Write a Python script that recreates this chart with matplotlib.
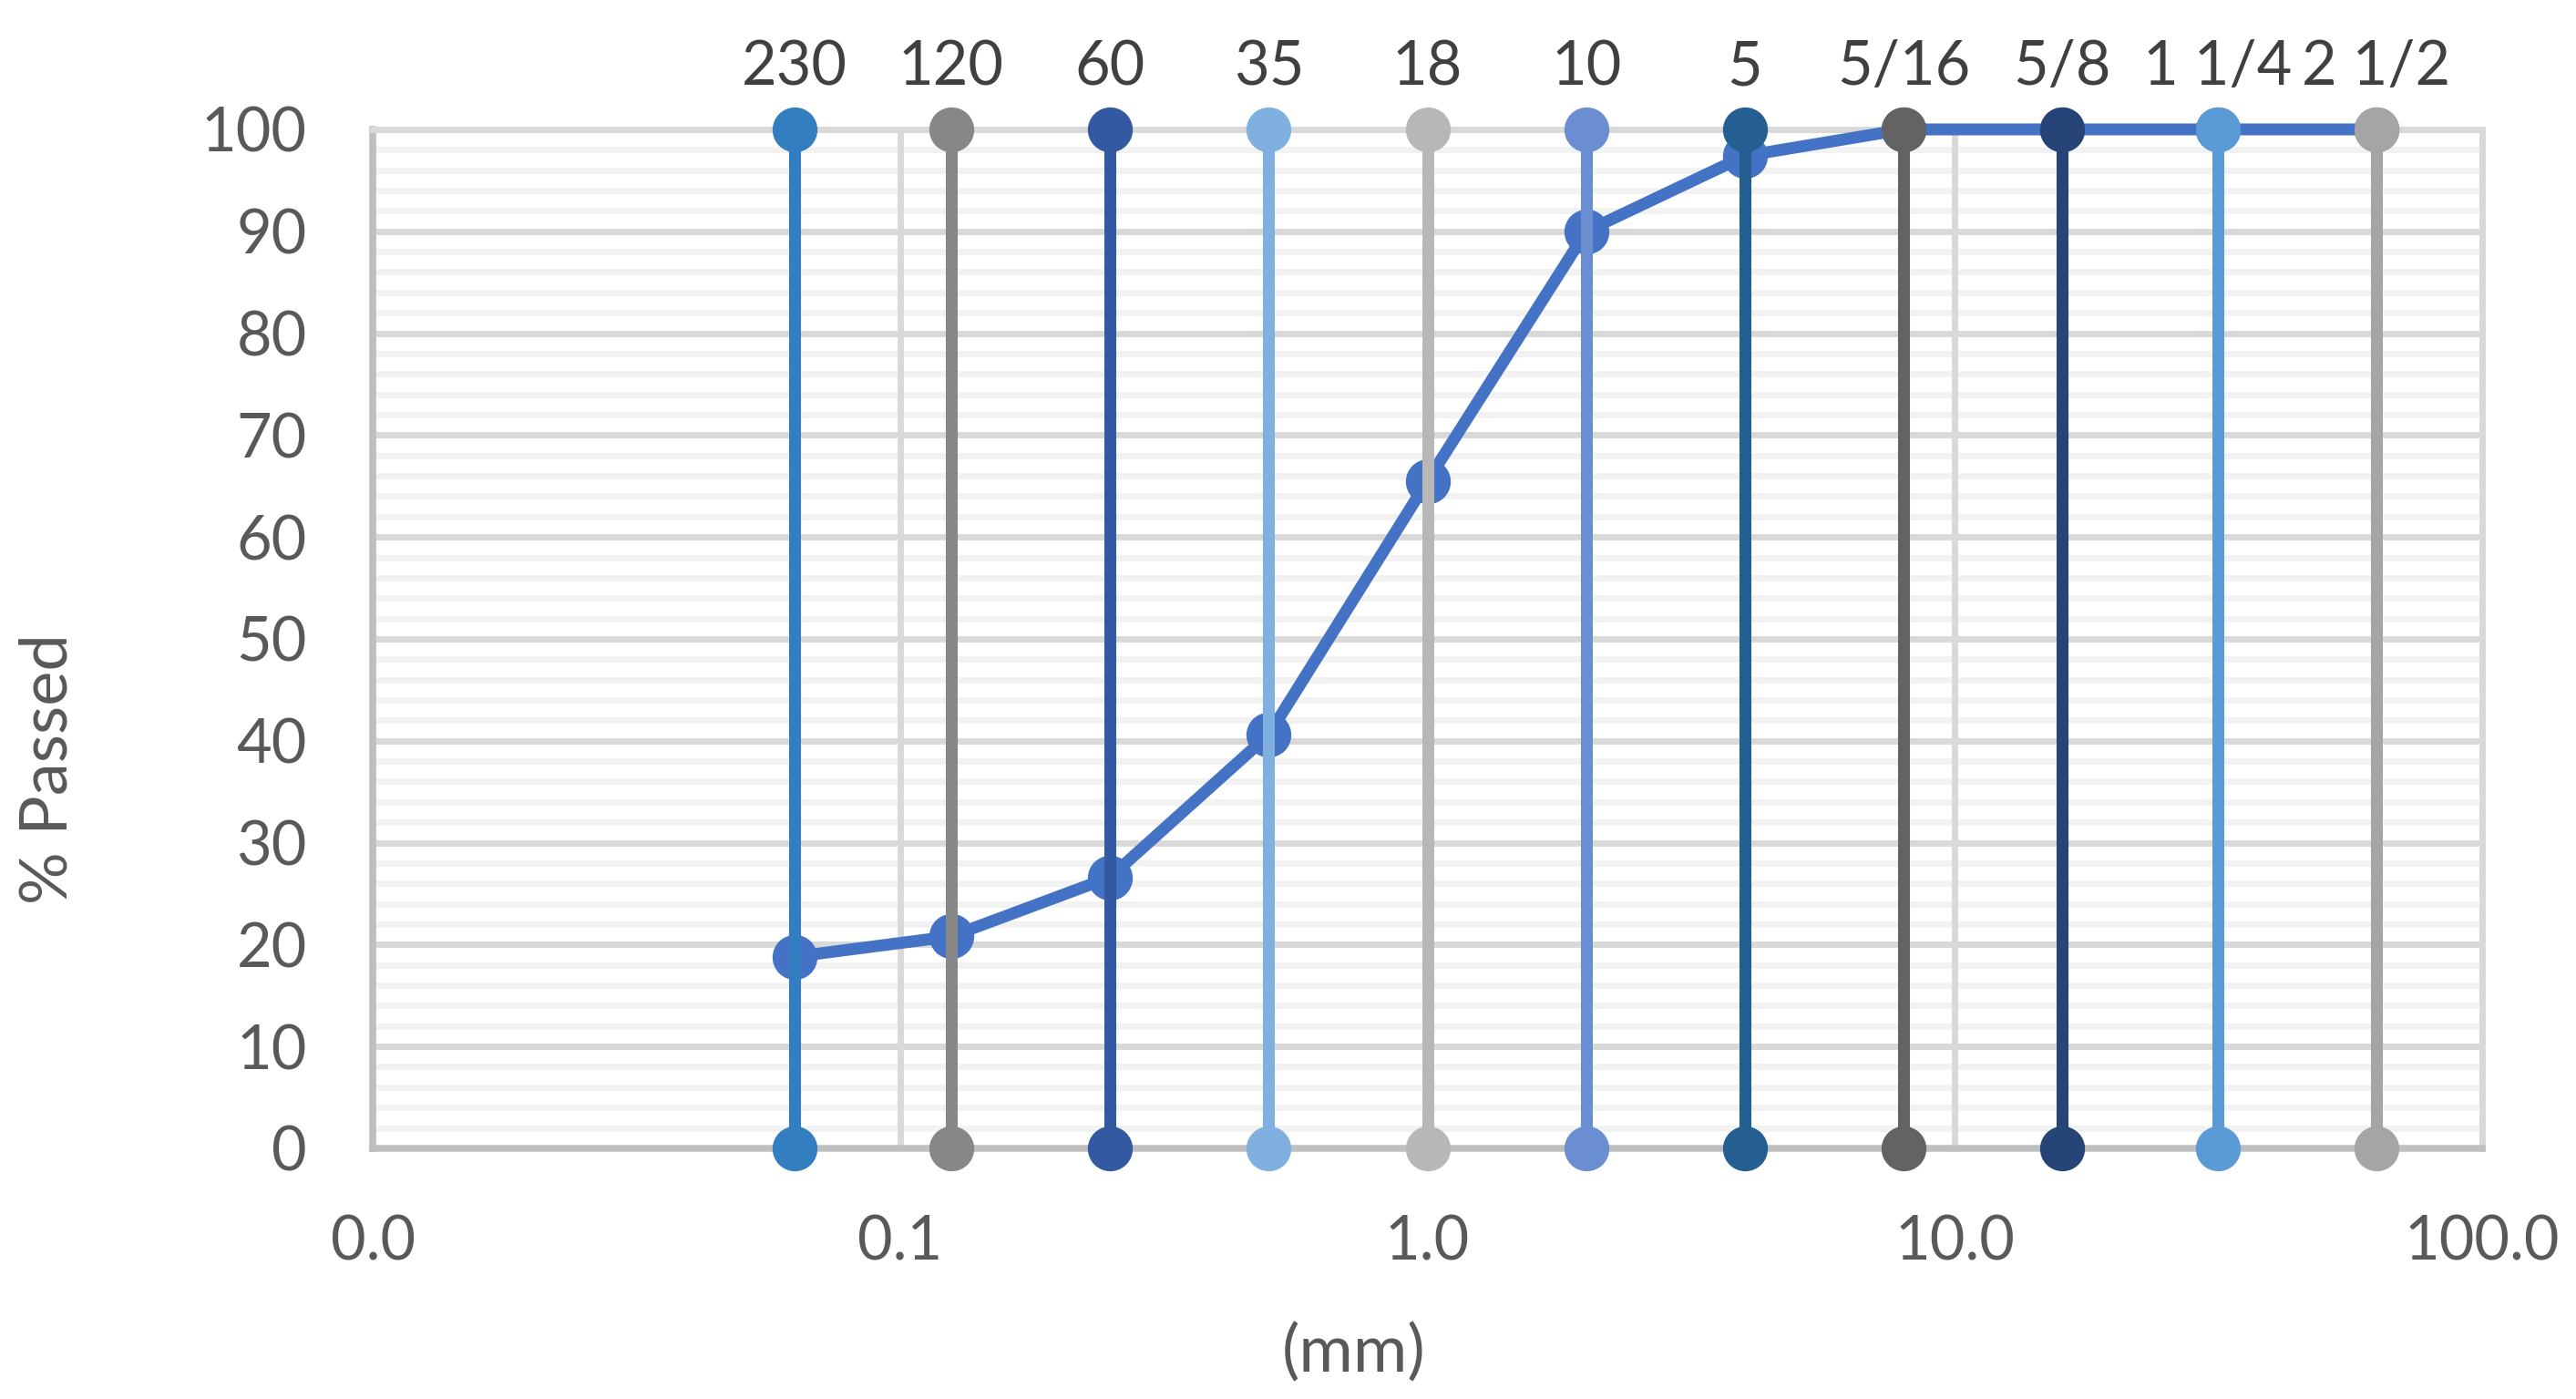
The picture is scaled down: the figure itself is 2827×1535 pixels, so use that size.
import matplotlib
matplotlib.use("Agg")
import matplotlib.pyplot as plt
from matplotlib.ticker import FixedLocator, MultipleLocator, NullLocator

plt.rcParams['font.family'] = ['Lato', 'DejaVu Sans']

# sieve sizes (mm) and their sieve numbers / inch labels
sieve_mm = [0.063, 0.125, 0.25, 0.5, 1.0, 2.0, 4.0, 8.0, 16.0, 31.5, 63.0]
sieve_labels = ['230', '120', '60', '35', '18', '10', '5', '5/16', '5/8', '1 1/4', '2 1/2']
sieve_colors = ['#337DC1', '#878787', '#335AA0', '#7FB0E0', '#B7B7B7', '#6A8ED0',
                '#255E91', '#636363', '#264478', '#5B9BD5', '#A5A5A5']

# grading curve
passed = [18.8, 20.8, 26.6, 40.6, 65.5, 90.0, 97.4, 100, 100, 100, 100]

x_ticks = [0.01, 0.1, 1, 10, 100]
x_ticklabels = ['0.0', '0.1', '1.0', '10.0', '100.0']

fig = plt.figure(figsize=(28.27, 15.35), dpi=100)
ax = fig.add_axes([0.1447, 0.1792, 0.8189, 0.7283])

ax.set_xscale('log')
ax.set_xlim(0.01, 100)
ax.set_ylim(0, 100)

# grid
ax.set_axisbelow(True)
ax.yaxis.set_major_locator(MultipleLocator(10))
ax.yaxis.set_minor_locator(MultipleLocator(2))
ax.xaxis.set_major_locator(FixedLocator(x_ticks))
ax.xaxis.set_minor_locator(NullLocator())
ax.set_xticklabels(x_ticklabels)
ax.grid(which='major', color='#D9D9D9', linewidth=5)
ax.grid(which='minor', axis='y', color='#F2F2F2', linewidth=5)
# vertical gridlines on top of the light horizontal ones
ax.yaxis.set_zorder(0.5)
ax.xaxis.set_zorder(0.7)

for s in ['left', 'bottom']:
    ax.spines[s].set_color('#BFBFBF')
    ax.spines[s].set_linewidth(5.4)
for s in ['top', 'right']:
    ax.spines[s].set_color('#D9D9D9')
    ax.spines[s].set_linewidth(5)

ax.tick_params(which='both', length=0, labelsize=48, labelcolor='#595959')
ax.tick_params(axis='y', pad=52)
ax.tick_params(axis='x', pad=52)

# grading curve
ax.plot(sieve_mm, passed, color='#4472C4', linewidth=9.4, marker='o',
        markersize=34.5, zorder=3, clip_on=False)

# sieve lines
for xm, lab, col in zip(sieve_mm, sieve_labels, sieve_colors):
    ax.plot([xm, xm], [0, 100], color=col, linewidth=9.4, marker='o',
            markersize=34.5, zorder=4, clip_on=False)
    ax.text(xm, 1.0438, lab, transform=ax.get_xaxis_transform(),
            ha='center', va='baseline', fontsize=48, color='#404040')

fig.text(53 / 2827, 1 - 844 / 1535, '% Passed', rotation=90, ha='center',
         va='center', fontsize=52, color='#595959')
fig.text(1486 / 2827, 1 - 1484 / 1535, '(mm)', ha='center', va='center',
         fontsize=52, color='#595959')

fig.savefig('out.png', dpi=100)
